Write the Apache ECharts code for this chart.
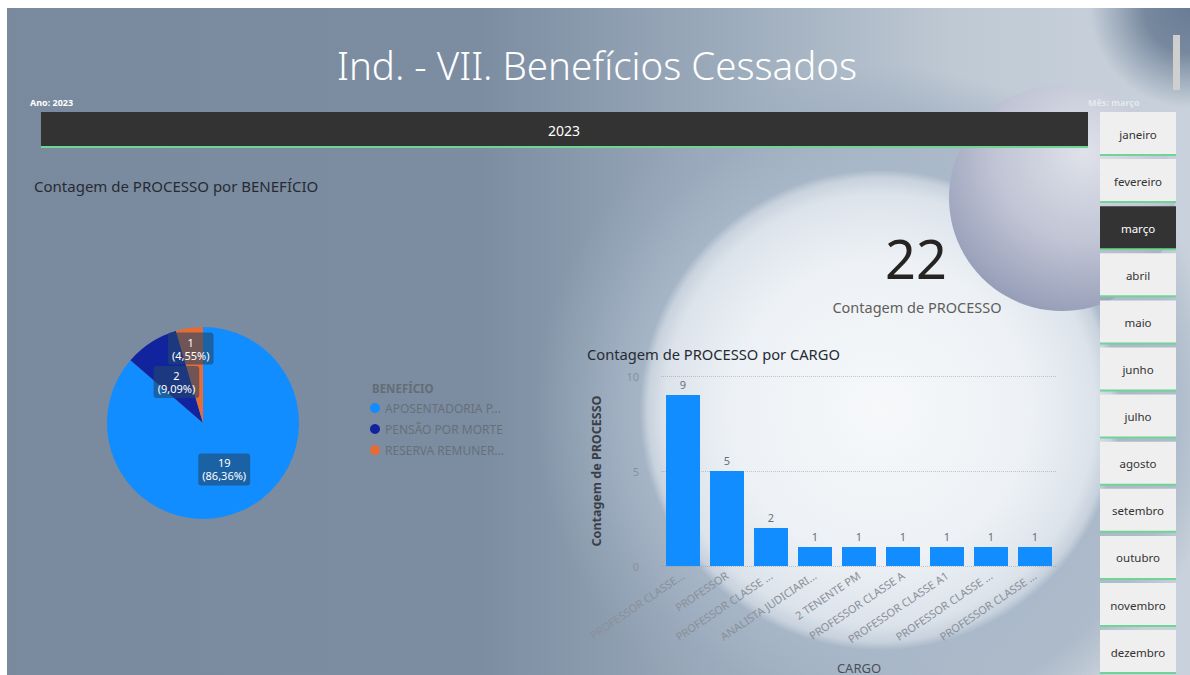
<!DOCTYPE html>
<html>
<head>
<meta charset="utf-8">
<script src="https://cdn.jsdelivr.net/npm/echarts@6/dist/echarts.min.js"></script>
<style>
html,body{margin:0;padding:0;background:#ffffff;}
#bg{position:absolute;left:7px;top:8px;width:1183px;height:667px;
background:
 radial-gradient(circle at 1183px 0px, rgba(105,124,148,1) 0px, rgba(105,124,148,0.85) 45px, rgba(105,124,148,0) 100px),
 radial-gradient(circle at 873px 402px, rgba(246,248,250,1) 0px, rgba(237,241,245,1) 150px, rgba(220,227,235,1) 215px, rgba(200,210,221,1) 232px, rgba(168,183,200,0.9) 240px, rgba(155,171,190,0.55) 300px, rgba(150,165,185,0) 345px),
 linear-gradient(90deg, #7a8a9e 0%, #7c8da2 40%, #9eadbd 62%, #bfc9d4 80%, #c9d2dc 100%);
}
#main{position:absolute;left:0;top:0;width:1190px;height:675px;}
</style>
</head>
<body>
<div id="bg"></div>
<div id="main"></div>
<script>
// ---- data ----
var beneficioNames = ['APOSENTADORIA P...', 'PENSÃO POR MORTE', 'RESERVA REMUNER...'];
var beneficioValues = [19, 2, 1];
var cargoNames = ['PROFESSOR CLASSE...', 'PROFESSOR', 'PROFESSOR CLASSE ...', 'ANALISTA JUDICIARI...', '2 TENENTE PM', 'PROFESSOR CLASSE A', 'PROFESSOR CLASSE A1', 'PROFESSOR CLASSE ...', 'PROFESSOR CLASSE ...'];
var cargoValues = [9, 5, 2, 1, 1, 1, 1, 1, 1];
var yTicks = [0, 5, 10];
var months = ['janeiro','fevereiro','março','abril','maio','junho','julho','agosto','setembro','outubro','novembro','dezembro'];
var selectedMonth = 'março';
var selectedYear = '2023';
var totalProcessos = 22;

var pieColors = ['#118DFF', '#12239E', '#E66C37'];
var FONT = '"Noto Sans", "Open Sans", sans-serif';

var chart = echarts.init(document.getElementById('main'), null, {renderer: 'svg'});

var graphics = [];
// decorative sphere
graphics.push({type:'circle', z:-10, shape:{cx:1062, cy:198, r:113}, silent:true,
  style:{fill:new echarts.graphic.RadialGradient(0.6, 0.3, 0.8, [
    {offset:0, color:'#dfe2ea'}, {offset:0.5, color:'#c0c4d4'}, {offset:0.85, color:'#9ca3bc'}, {offset:1, color:'#8b92ae'}])}});
// white frame
graphics.push({type:'rect', shape:{x:0,y:0,width:1190,height:8}, style:{fill:'#ffffff'}, silent:true});
graphics.push({type:'rect', shape:{x:0,y:0,width:7,height:675}, style:{fill:'#ffffff'}, silent:true});
// title
graphics.push({type:'text', x:597, y:65, style:{text:'Ind. - VII. Benefícios Cessados', fill:'#ffffff', font:'300 38.5px ' + FONT, align:'center', verticalAlign:'middle'}});
// year slicer
graphics.push({type:'text', x:30, y:102, style:{text:'Ano: ' + selectedYear, fill:'#ffffff', font:'bold 9px ' + FONT, align:'left', verticalAlign:'middle'}});
graphics.push({type:'rect', shape:{x:41,y:112,width:1047,height:35}, style:{fill:'#333333'}});
graphics.push({type:'rect', shape:{x:41,y:146,width:1047,height:2}, style:{fill:'#6fd495'}});
graphics.push({type:'text', x:564, y:130, style:{text:selectedYear, fill:'#ffffff', font:'14px ' + FONT, align:'center', verticalAlign:'middle'}});
graphics.push({type:'text', x:1088, y:102, style:{text:'Mês: ' + selectedMonth, fill:'rgba(255,255,255,0.55)', font:'bold 9px ' + FONT, align:'left', verticalAlign:'middle'}});
// scrollbar
graphics.push({type:'rect', shape:{x:1173,y:35,width:7,height:55}, style:{fill:'#cfcfcf'}});
months.forEach(function(m, i){
  var cy = 134 + i * 47.1;
  var sel = m === selectedMonth;
  graphics.push({type:'rect', shape:{x:1100,y:cy-22,width:76,height:43}, style:{fill: sel ? '#333333' : '#efefef'}});
  graphics.push({type:'rect', shape:{x:1100,y:cy+20,width:76,height:2}, style:{fill:'#6fd495'}});
  graphics.push({type:'text', x:1138, y:cy, style:{text:m, fill: sel ? '#ffffff' : '#333333', font:'11.5px ' + FONT, align:'center', verticalAlign:'middle'}});
});
// pie title + legend title
graphics.push({type:'text', x:34, y:186, style:{text:'Contagem de PROCESSO por BENEFÍCIO', fill:'#262b33', font:'15px ' + FONT, align:'left', verticalAlign:'middle'}});
graphics.push({type:'text', x:372, y:388, style:{text:'BENEFÍCIO', fill:'#646c76', font:'bold 11.5px ' + FONT, align:'left', verticalAlign:'middle'}});
// KPI card
graphics.push({type:'text', x:916, y:258, style:{text:String(totalProcessos), fill:'#252423', font:'54px ' + FONT, align:'center', verticalAlign:'middle'}});
graphics.push({type:'text', x:917, y:307, style:{text:'Contagem de PROCESSO', fill:'#605E5C', font:'14.5px ' + FONT, align:'center', verticalAlign:'middle'}});
// bar title
graphics.push({type:'text', x:587, y:354, style:{text:'Contagem de PROCESSO por CARGO', fill:'#262b33', font:'14.7px ' + FONT, align:'left', verticalAlign:'middle'}});

function fmtPct(p){ return p.toFixed(2).replace('.', ','); }

var labelOffsets = [[0, 0], [1, 2], [-5, -24]];

var option = {
  animation: false,
  textStyle: {fontFamily: FONT},
  graphic: graphics,
  legend: {
    orient: 'vertical', left: 370, top: 402, padding: 0, itemGap: 9, icon: 'circle', itemWidth: 10, itemHeight: 10,
    textStyle: {color: '#66707b', fontSize: 12, fontFamily: FONT},
    data: beneficioNames
  },
  grid: {left: 661, right: 133, top: 376, bottom: 103},
  xAxis: {
    type: 'category', data: cargoNames,
    axisLine: {show: false}, axisTick: {show: false},
    axisLabel: {rotate: 34, color: '#8a9099', fontSize: 11, margin: 8, interval: 0},
    name: 'CARGO', nameLocation: 'middle', nameGap: 95,
    nameTextStyle: {color: '#4a4f57', fontSize: 13}
  },
  yAxis: {
    type: 'value', min: 0, max: 10, interval: 5,
    axisLabel: {color: '#8a9099', fontSize: 11, margin: 22},
    splitLine: {lineStyle: {type: 'dotted', color: 'rgba(140,140,140,0.45)'}},
    name: 'Contagem de PROCESSO', nameLocation: 'middle', nameGap: 58, nameRotate: 90,
    nameTextStyle: {color: '#3a3f47', fontSize: 12.5, fontWeight: 'bold'}
  },
  series: [
    {
      type: 'pie', center: [203, 423], radius: 96, startAngle: 90, clockwise: true,
      avoidLabelOverlap: false,
      labelLayout: {hideOverlap: false},
      color: pieColors,
      data: beneficioNames.map(function(n, i){ return {name: n, value: beneficioValues[i], label: {offset: labelOffsets[i]}}; }),
      label: {
        show: true,
        position: 'inside',
        formatter: function(p){ return p.value + '\n(' + fmtPct(p.percent) + '%)'; },
        color: '#ffffff', fontSize: 11, lineHeight: 13,
        backgroundColor: 'rgba(35,70,105,0.6)', borderRadius: 3, padding: [3, 4]
      },
      labelLine: {show: false},
      emphasis: {disabled: true}
    },
    {
      type: 'bar', data: cargoValues, barWidth: 34,
      itemStyle: {color: '#118DFF'},
      label: {show: true, position: 'top', color: '#6b7078', fontSize: 11, distance: 5}
    }
  ]
};
chart.setOption(option);
</script>
</body>
</html>
